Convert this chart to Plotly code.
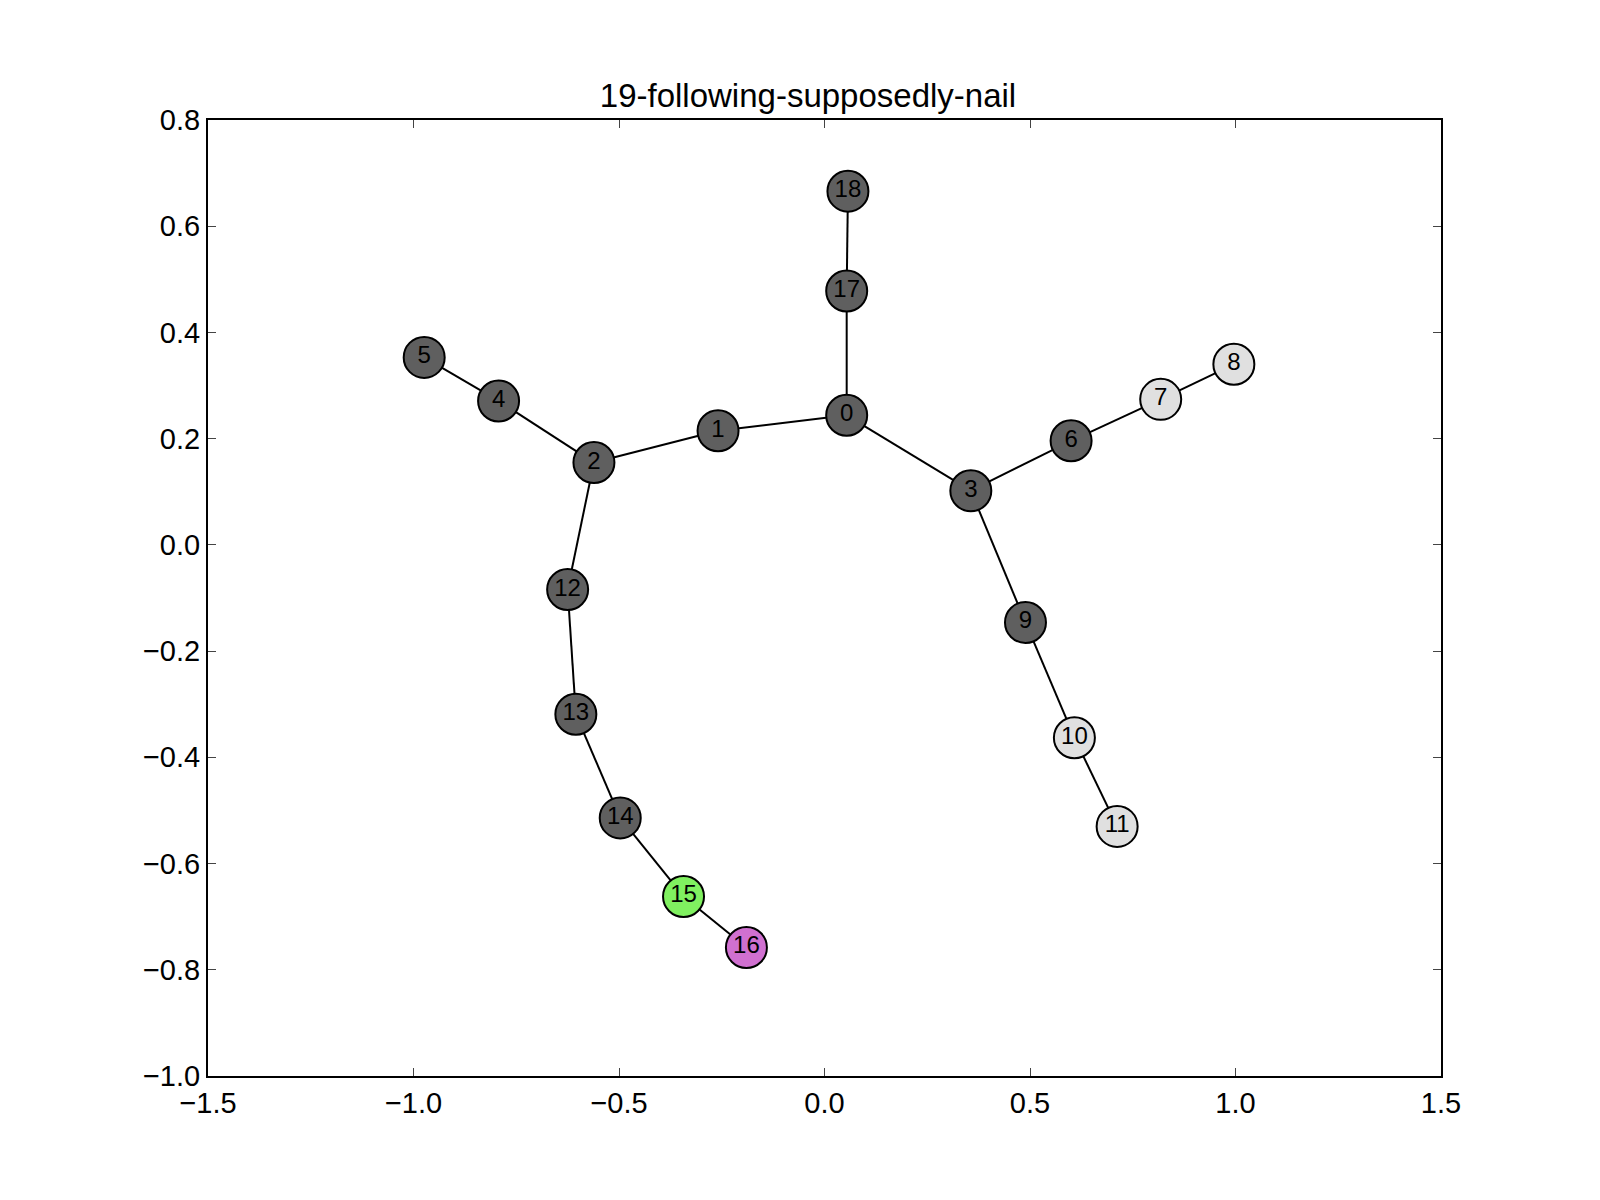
import plotly.graph_objects as go

node_ids = list(range(19))
node_x = [0.054, -0.259, -0.561, 0.356, -0.793, -0.974, 0.600, 0.818, 0.996, 0.489,
          0.608, 0.712, -0.625, -0.605, -0.497, -0.343, -0.190, 0.054, 0.057]
node_y = [0.244, 0.215, 0.155, 0.102, 0.271, 0.353, 0.196, 0.274, 0.340, -0.146,
          -0.363, -0.530, -0.084, -0.319, -0.514, -0.662, -0.758, 0.478, 0.666]
node_colors = ["#5f5f5f"] * 19
for i in (7, 8, 10, 11):
    node_colors[i] = "#e0e0e0"
node_colors[15] = "#80f060"
node_colors[16] = "#d070d0"
edges = [(0, 1), (1, 2), (2, 4), (4, 5), (2, 12), (12, 13), (13, 14), (14, 15), (15, 16),
         (0, 3), (3, 6), (6, 7), (7, 8), (3, 9), (9, 10), (10, 11), (0, 17), (17, 18)]

ex, ey = [], []
for a, b in edges:
    ex += [node_x[a], node_x[b], None]
    ey += [node_y[a], node_y[b], None]

fig = go.Figure()
fig.add_trace(go.Scatter(x=ex, y=ey, mode="lines", line=dict(color="black", width=2),
                         hoverinfo="skip", showlegend=False))
fig.add_trace(go.Scatter(x=node_x, y=node_y, mode="markers+text",
                         text=[str(i) for i in node_ids], textposition="middle center",
                         textfont=dict(size=24, color="black", family="Liberation Sans"),
                         marker=dict(size=41, color=node_colors, line=dict(color="black", width=2)),
                         showlegend=False))
axis = dict(showgrid=False, zeroline=False, ticks="inside", ticklen=8, mirror="ticks",
            showline=True, linecolor="black", linewidth=2,
            tickfont=dict(size=29, family="Liberation Sans", color="black"))
fig.update_xaxes(range=[-1.5, 1.5], dtick=0.5, tickformat=".1f", **axis)
fig.update_yaxes(range=[-1.0, 0.8], dtick=0.2, tickformat=".1f", **axis)
fig.update_layout(width=1600, height=1200, plot_bgcolor="white", paper_bgcolor="white",
                  margin=dict(l=200, r=167, t=112, b=132),
                  title=dict(text="19-following-supposedly-nail", x=0.5, xanchor="center",
                             y=1 - 87 / 1200, yanchor="middle",
                             font=dict(size=33, family="Liberation Sans", color="black")))
fig.write_html("out.html")
